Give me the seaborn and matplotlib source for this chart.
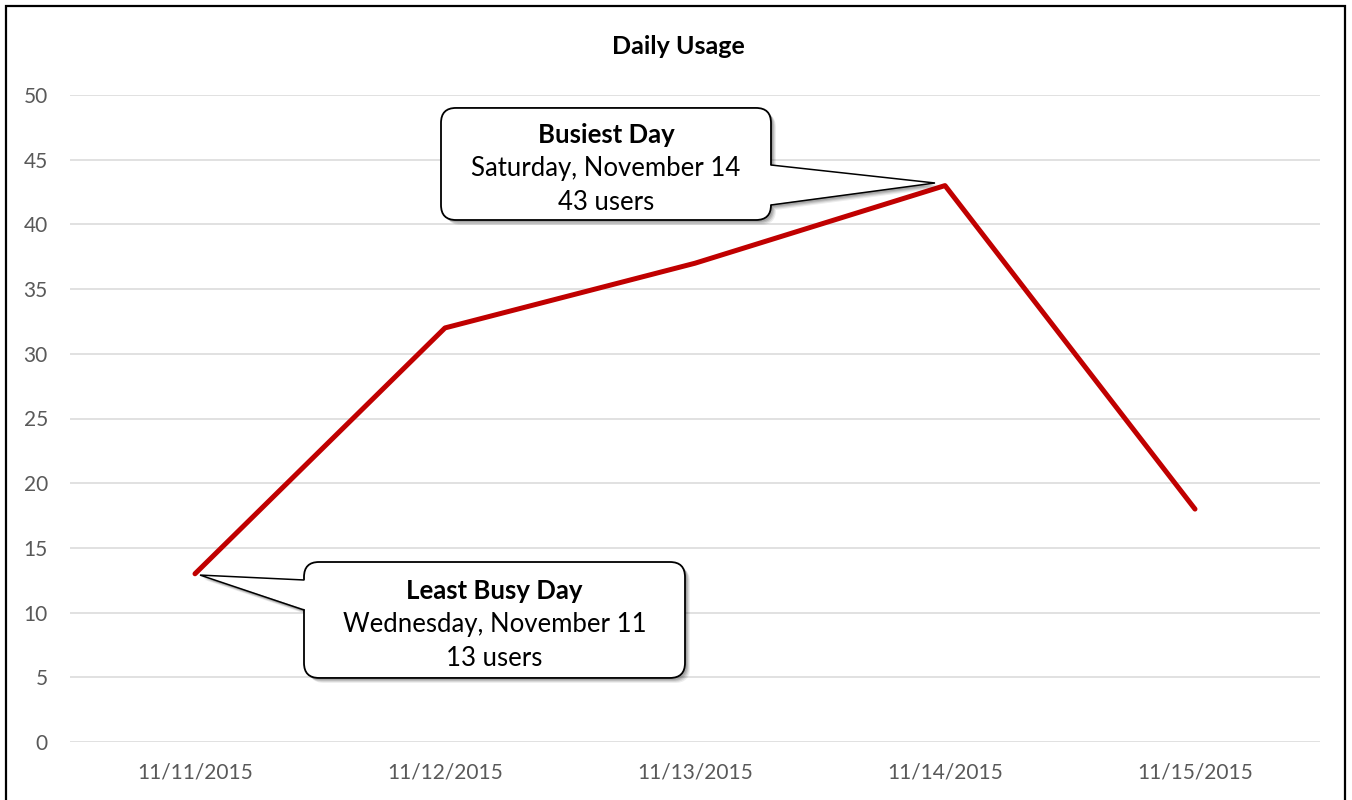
import matplotlib
matplotlib.use("Agg")
import matplotlib.pyplot as plt
import seaborn as sns
import pandas as pd
from matplotlib.patches import FancyBboxPatch, Polygon, Rectangle

# Daily usage data
dates = ["11/11/2015", "11/12/2015", "11/13/2015", "11/14/2015", "11/15/2015"]
weekdays = ["Wednesday", "Thursday", "Friday", "Saturday", "Sunday"]
users = [13, 32, 37, 43, 18]
y_ticks = [0, 5, 10, 15, 20, 25, 30, 35, 40, 45, 50]

sns.set_theme(style="white")
plt.rcParams["font.family"] = ["Lato", "DejaVu Sans"]

W, H = 1352, 800
fig = plt.figure(figsize=(W / 100, H / 100), dpi=100)
ax = fig.add_axes([70 / W, (H - 742) / H, 1250 / W, 647 / H])

df = pd.DataFrame({"date": dates, "users": users})
sns.lineplot(data=df, x="date", y="users", ax=ax, color="#C00000", linewidth=3.6,
             sort=False, zorder=3)
for ln in ax.lines:
    ln.set_solid_capstyle("round")
    ln.set_solid_joinstyle("round")

ax.set_xlim(-0.5, len(dates) - 0.5)
ax.set_ylim(0, 50)
ax.set_yticks(y_ticks)
ax.set_xticks(range(len(dates)))
ax.set_xticklabels(dates)
ax.set_xlabel("")
ax.set_ylabel("")
ax.grid(axis="y", color="#D9D9D9", linewidth=1.1)
ax.grid(axis="x", visible=False)
for s in ax.spines.values():
    s.set_visible(False)
ax.tick_params(axis="both", length=0, labelsize=15, labelcolor="#595959")
ax.tick_params(axis="y", pad=16)
ax.tick_params(axis="x", pad=15)

fig.text(678 / W, 1 - 47 / H, "Daily Usage", ha="center", va="center",
         fontsize=18, fontweight="bold", color="black")

# outer chart border
fig.patches.append(Rectangle((5.5 / W, -0.05), 1339.5 / W, 1.05 - 6.5 / H,
                             transform=fig.transFigure, fill=False,
                             edgecolor="black", linewidth=1.6, zorder=10))

# pixel -> data scale, used for rounded corners and offsets
px_x = 1 / 250.0
px_y = 50 / 647.0


def callout(x0, y0, x1, y1, base, tip, side, lines):
    """Rounded speech box from (x0,y0) to (x1,y1) with a wedge pointing to tip."""
    r = 15 * px_x
    aspect = px_y / px_x
    bx = x1 if side == "right" else x0
    wedge = [(bx, base[0]), tip, (bx, base[1])]
    inset = -3 * px_x if side == "right" else 3 * px_x
    # soft drop shadow
    for k, a in [(5, 0.07), (4, 0.09), (3, 0.12), (2, 0.12)]:
        dx, dy = k * px_x, -k * px_y
        ax.add_patch(FancyBboxPatch((x0 + dx, y1 + dy), x1 - x0, y0 - y1,
                                    boxstyle=f"round,pad=0,rounding_size={r}",
                                    mutation_aspect=aspect, facecolor="black",
                                    edgecolor="none", alpha=a, zorder=4, clip_on=False))
        ax.add_patch(Polygon([(p[0] + dx, p[1] + dy) for p in wedge], closed=True,
                             facecolor="black", edgecolor="none", alpha=a,
                             zorder=4, clip_on=False))
    ax.add_patch(FancyBboxPatch((x0, y1), x1 - x0, y0 - y1,
                                boxstyle=f"round,pad=0,rounding_size={r}",
                                mutation_aspect=aspect, facecolor="white",
                                edgecolor="black", linewidth=1.3, zorder=5, clip_on=False))
    ax.add_patch(Polygon([(bx + inset, base[0]), tip, (bx + inset, base[1])], closed=True,
                         facecolor="white", edgecolor="none", zorder=6, clip_on=False))
    ax.plot([bx, tip[0], bx], [base[0], tip[1], base[1]], color="black",
            linewidth=1.1, zorder=7, clip_on=False, solid_joinstyle="miter")
    cx = (x0 + x1) / 2
    cy = (y0 + y1) / 2 - 5 * px_y
    step = 34 * px_y
    for i, (txt, bold) in enumerate(lines):
        ax.text(cx, cy + (1 - i) * step, txt, ha="center", va="center",
                fontsize=18.5, fontweight="bold" if bold else "normal",
                color="black", zorder=8)


imax = users.index(max(users))
imin = users.index(min(users))

callout(0.984, 49.0, 2.304, 40.34, (44.59, 41.5), (imax - 0.04, max(users) + 0.2), "right",
        [("Busiest Day", True),
         (f"{weekdays[imax]}, November {dates[imax].split('/')[1]}", False),
         (f"{users[imax]} users", False)])

callout(0.436, 13.91, 1.96, 4.95, (12.52, 10.2), (imin + 0.02, min(users) - 0.1), "left",
        [("Least Busy Day", True),
         (f"{weekdays[imin]}, November {dates[imin].split('/')[1]}", False),
         (f"{users[imin]} users", False)])

fig.savefig("out.png", dpi=100, facecolor="white")
